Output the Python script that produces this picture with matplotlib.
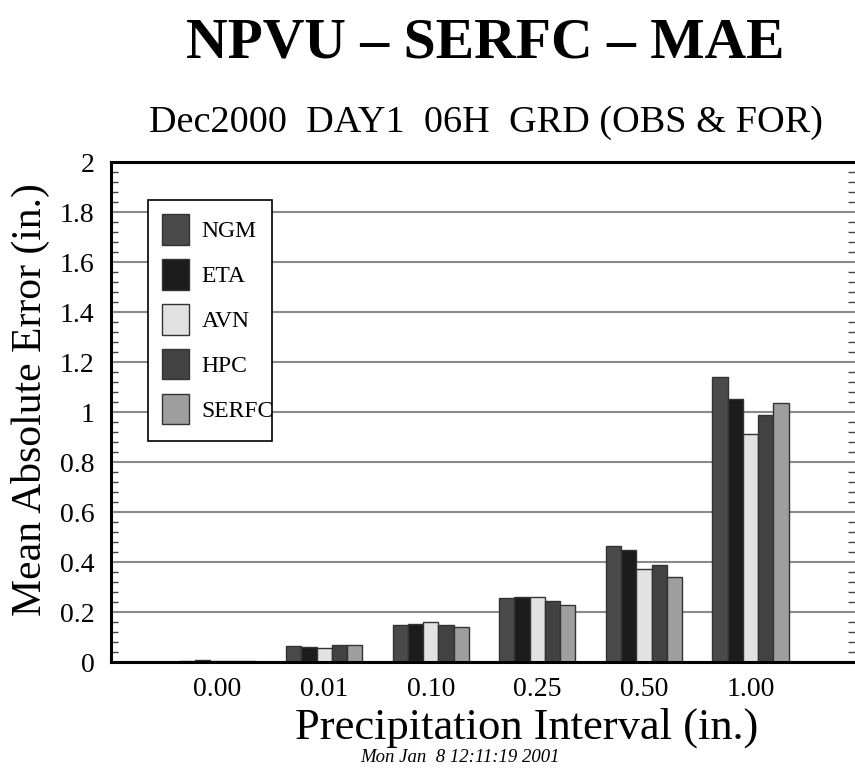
import numpy as np
import matplotlib
matplotlib.use('Agg')
from matplotlib import pyplot as plt
from matplotlib.patches import Patch, Rectangle
from matplotlib.ticker import MultipleLocator

# Data
intervals = ['0.00', '0.01', '0.10', '0.25', '0.50', '1.00']
models = ['NGM', 'ETA', 'AVN', 'HPC', 'SERFC']
ngm = [0.003, 0.064, 0.147, 0.257, 0.464, 1.139]
eta = [0.008, 0.062, 0.151, 0.261, 0.449, 1.051]
avn = [0.004, 0.055, 0.161, 0.259, 0.371, 0.912]
hpc = [0.003, 0.070, 0.149, 0.244, 0.389, 0.989]
serfc = [0.003, 0.070, 0.140, 0.229, 0.341, 1.037]
colors = ['#4a4a4a', '#1c1c1c', '#e2e2e2', '#424242', '#9e9e9e']

plt.rcParams['font.family'] = ['Liberation Serif', 'DejaVu Serif']

fig = plt.figure(figsize=(8.55, 7.68), dpi=100)
ax = fig.add_axes([0.1298, 0.138, 0.8702, 0.651])

x = np.arange(len(intervals))
w = 0.143
series = [ngm, eta, avn, hpc, serfc]
for i, vals in enumerate(series):
    ax.bar(x + (i - 2) * w, vals, width=w, color=colors[i], edgecolor='#333333',
           linewidth=1.0, zorder=3)

ax.set_xlim(-1, 5.98)
ax.set_ylim(0, 2)
ax.set_xticks(x)
ax.set_xticklabels(intervals, fontsize=20)
ax.tick_params(axis='x', length=0, pad=11)
ax.yaxis.set_minor_locator(MultipleLocator(0.04))
ax.set_yticks(np.arange(0, 2.01, 0.2))
ax.set_yticklabels(['0', '0.2', '0.4', '0.6', '0.8', '1', '1.2', '1.4', '1.6', '1.8', '2'], fontsize=20)
ax.tick_params(axis='y', which='major', direction='in', length=0, pad=12)
ax.tick_params(axis='y', which='minor', direction='in', length=5, width=1, color='#444444',
               left=True, right=True)
ax.grid(axis='y', color='#8a8a8a', linewidth=1.5, zorder=0)
for s in ['left', 'bottom', 'top']:
    ax.spines[s].set_linewidth(2.2)
    ax.spines[s].set_zorder(5)
ax.spines['right'].set_visible(False)

ax.set_ylabel('Mean Absolute Error (in.)', fontsize=30)
ax.yaxis.set_label_coords(-0.082, 0.524)
ax.set_xlabel('Precipitation Interval (in.)', fontsize=32)
ax.xaxis.set_label_coords(0.559, -0.092)

# legend box is narrower than its contents in the original
box = Rectangle((0.0497, 0.442), 0.1667, 0.482, transform=ax.transAxes,
                facecolor='white', edgecolor='black', linewidth=1.2, zorder=6)
ax.add_patch(box)
handles = [Patch(facecolor=colors[i], edgecolor='#333333', label=models[i]) for i in range(5)]
leg = ax.legend(handles=handles, loc='upper left', bbox_to_anchor=(0.05, 0.924),
                borderaxespad=0, fontsize=17, frameon=False,
                handlelength=1.15, handleheight=1.6,
                labelspacing=0.62, borderpad=0.6, handletextpad=0.5)
leg.set_zorder(7)

fig.text(0.568, 0.943, 'NPVU \u2013 SERFC \u2013 MAE', ha='center', va='center',
         fontsize=41.5, fontweight='bold')
fig.text(0.568, 0.84, 'Dec2000  DAY1  06H  GRD (OBS & FOR)', ha='center', va='center',
         fontsize=27.5)
fig.text(0.538, 0.014, 'Mon Jan  8 12:11:19 2001', ha='center', va='center',
         fontsize=13.5, style='italic')

fig.savefig('out.png', dpi=100)
